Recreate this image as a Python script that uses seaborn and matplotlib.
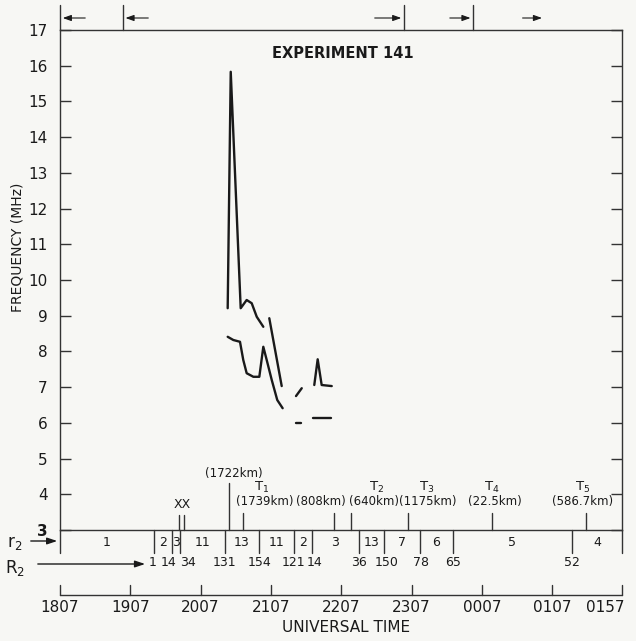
import numpy as np
import pandas as pd
import matplotlib.pyplot as plt
import seaborn as sns

# --- datos (tiempo en minutos desde 1807 UT, frecuencia en MHz) ---
T_END = 479.6  # borde derecho del eje (etiqueta 0157)

upper_t = [143.1, 145.7, 154.2, 159.3, 163.6, 167.9, 173.5]
upper_f = [9.21, 15.83, 9.21, 9.44, 9.35, 8.97, 8.69]

lower_t = [143.1, 147.9, 153.6, 156.4, 159.3, 165.0, 170.1, 173.5, 176.4, 180.7, 185.4, 190.0]
lower_f = [8.41, 8.32, 8.27, 7.76, 7.39, 7.29, 7.29, 8.13, 7.76, 7.20, 6.64, 6.41]

seg_a_t = [178.6, 189.2]
seg_a_f = [8.93, 7.03]

seg_b_t = [201.4, 206.3]
seg_b_f = [6.75, 6.97]

dash_a_t = [201.1, 205.7]
dash_a_f = [6.00, 6.00]

peak_t = [217.0, 219.9, 223.3, 231.9]
peak_f = [7.06, 7.78, 7.06, 7.03]

dash_b_t = [216.2, 231.3]
dash_b_f = [6.13, 6.13]

# banda r2: limites de segmentos y valores
r2_bounds = [0, 80.2, 95.8, 102.4, 140.8, 169.8, 199.9, 214.8, 255.4, 276.5, 307.2, 335.1, 437.2, T_END]
r2_values = ['1', '2', '3', '11', '13', '11', '2', '3', '13', '7', '6', '5', '4']

# fila R2
R2_labels = ['1', '14', '34', '131', '154', '121', '14', '36', '150', '78', '65', '52']
R2_pos = [79.4, 93.0, 109.2, 140.0, 170.7, 199.0, 217.5, 255.2, 279.1, 308.1, 335.4, 436.9]

# eventos marcados sobre el eje
xx_t = [101.8, 106.1]
event_t = [144.3, 156.4, 234.1, 248.3, 296.7, 368.4, 448.6]
event_top = [483, 513, 513, 513, 513, 513, 513]
event_km = ['(1722km)', '(1739km)', '(808km)', '(640km)', '(1175km)', '(22.5km)', '(586.7km)']
event_T = ['', r'T$_1$', '', r'T$_2$', r'T$_3$', r'T$_4$', r'T$_5$']
event_txt_x = [148.5, 175.0, 222.3, 268.0, 314.0, 371.0, 446.3]
event_T_x = [0, 172.1, 0, 270.3, 312.9, 368.4, 446.3]

# marcas superiores con flechas
top_marks = [0, 53.5, 293.6, 352.7]
top_arrows = [(23.9, 0), (77.7, 53.5), (266.2, 293.6), (330.3, 352.7), (392.4, 413.7)]

# eje de tiempo
time_ticks = [0, 60, 120, 180, 240, 300, 360, 420, T_END]
time_labels = ['1807', '1907', '2007', '2107', '2207', '2307', '0007', '0107', '0157']

# --- estilo ---
sns.set_style("ticks")
plt.rcParams['font.family'] = ['DejaVu Sans']
bg = '#f7f7f4'
ink = '#1a1a1a'

fig = plt.figure(figsize=(6.36, 6.41), dpi=100, facecolor=bg)
ax = fig.add_axes([60/636, 111/641, 562/636, 500/641])
ax.set_facecolor(bg)

# curvas
segs = [(upper_t, upper_f), (lower_t, lower_f), (seg_a_t, seg_a_f), (seg_b_t, seg_b_f),
        (dash_a_t, dash_a_f), (peak_t, peak_f), (dash_b_t, dash_b_f)]
df = pd.concat([pd.DataFrame({'t': t, 'f': f, 'seg': i}) for i, (t, f) in enumerate(segs)])
sns.lineplot(data=df, x='t', y='f', units='seg', estimator=None, sort=False,
             color=ink, linewidth=1.7, legend=False, ax=ax)

ax.set_xlim(0, T_END)
ax.set_ylim(3, 17)
ax.set_xticks([])
ax.set_yticks(range(3, 18))
ax.set_yticklabels([str(v) for v in range(3, 18)])
ax.get_yticklabels()[0].set_fontweight('bold')
ax.tick_params(axis='y', direction='in', length=8, width=1, right=True, labelsize=11,
               pad=9, colors='#333333', labelcolor=ink)
ax.set_xlabel('')
ax.set_ylabel('')
for s in ax.spines.values():
    s.set_linewidth(1)
    s.set_color('#333333')

ax.text(0.504, 0.954, 'EXPERIMENT 141', transform=ax.transAxes, ha='center', va='center',
        fontsize=10.5, fontweight='bold', color=ink)
fig.text(18/636, 1 - 247/641, 'FREQUENCY (MHz)', rotation=90, ha='center', va='center',
         fontsize=10, color=ink)

# capa superpuesta: x en minutos, y en pixeles
PPM = 562 / T_END
ov = fig.add_axes([0, 0, 1, 1], zorder=3)
ov.patch.set_alpha(0)
ov.axis('off')
ov.set_xlim(-60/PPM, 576/PPM)
ov.set_ylim(641, 0)
lk = dict(color='#333333', lw=1)
fs = 8.5

# banda r2
for b in r2_bounds:
    ov.plot([b, b], [530, 553], **lk)
for i, v in enumerate(r2_values):
    ov.text((r2_bounds[i] + r2_bounds[i+1]) / 2, 543, v, ha='center', va='center', fontsize=9, color=ink)
for x, lab in zip(R2_pos, R2_labels):
    ov.text(x, 563, lab, ha='center', va='center', fontsize=9, color=ink)

ov.text(-38.3, 543, r'r$_2$', ha='center', va='center', fontsize=12, color=ink)
ov.annotate('', xy=(0, 541), xytext=(-27.3, 541),
            arrowprops=dict(arrowstyle='-|>,head_length=0.6,head_width=0.2', color=ink, lw=1))
ov.text(-38.3, 568, r'R$_2$', ha='center', va='center', fontsize=12, color=ink)
ov.annotate('', xy=(75.0, 564), xytext=(-21.3, 564),
            arrowprops=dict(arrowstyle='-|>,head_length=0.6,head_width=0.2', color=ink, lw=1))

# eventos
for x in xx_t:
    ov.plot([x, x], [515, 530], **lk)
ov.text(np.mean(xx_t), 505, 'XX', ha='center', va='center', fontsize=9, color=ink)
for t, top, km, tl, kx, tx in zip(event_t, event_top, event_km, event_T, event_txt_x, event_T_x):
    ov.plot([t, t], [top, 530], **lk)
    ky = 474 if top < 500 else 502
    ov.text(kx, ky, km, ha='center', va='center', fontsize=fs, color=ink)
    if tl:
        ov.text(tx, 487, tl, ha='center', va='center', fontsize=9.5, color=ink)

# marcas superiores
for t in top_marks:
    ov.plot([t, t], [5, 30], **lk)
for x0, x1 in top_arrows:
    ov.annotate('', xy=(x1, 18), xytext=(x0, 18),
                arrowprops=dict(arrowstyle='-|>,head_length=0.5,head_width=0.18', color=ink, lw=0.8))

# eje de tiempo
ov.plot([0, T_END], [595, 595], **lk)
for t, lab in zip(time_ticks, time_labels):
    ov.plot([t, t], [585, 595], **lk)
    ha = 'right' if t == T_END else 'center'
    ov.text(t + (2 if t == T_END else 0), 607, lab, ha=ha, va='center', fontsize=11, color=ink)
ov.text(T_END / 2 + 4, 627, 'UNIVERSAL TIME', ha='center', va='center', fontsize=11, color=ink)

plt.savefig('out.png', dpi=100, facecolor=bg)
